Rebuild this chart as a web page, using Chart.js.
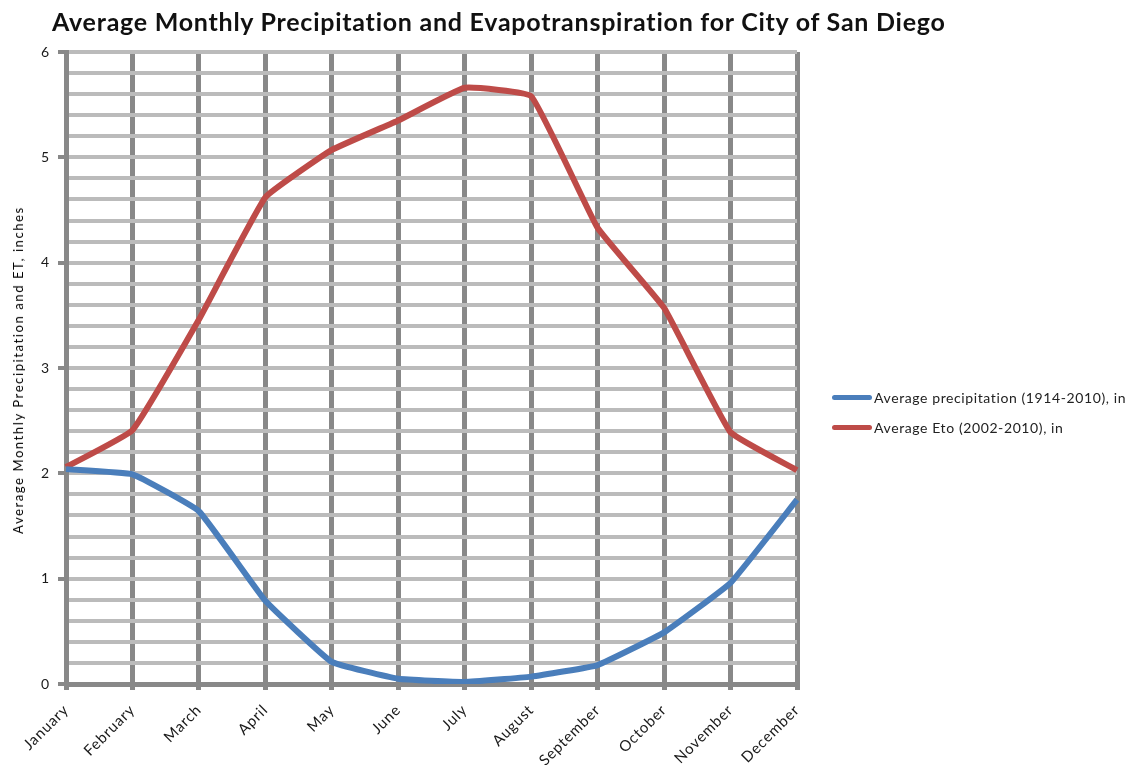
<!DOCTYPE html>
<html>
<head>
<meta charset="utf-8">
<script src="https://cdn.jsdelivr.net/npm/chart.js@4/dist/chart.umd.min.js"></script>
<style>
  html, body { margin: 0; padding: 0; background: #fff; }
  #wrap { position: relative; width: 1136px; height: 765px; }
  #title { position: absolute; left: 52px; top: 9px; font: bold 25px/25px Lato, sans-serif; letter-spacing: 0.75px; color: #111; white-space: nowrap; }
  #ytitle { position: absolute; left: 18px; top: 370px; transform: translate(-50%, -50%) rotate(-90deg); font: 13px/14px Lato, sans-serif; letter-spacing: 1.6px; color: #000; white-space: nowrap; }
  #legend { position: absolute; left: 832px; top: 382px; font: 14px Lato, sans-serif; letter-spacing: 0.6px; color: #222; }
  .item { display: flex; align-items: center; height: 30px; }
  .sw { width: 40px; height: 5px; border-radius: 3px; margin-right: 2px; }
  canvas { position: absolute; left: 0; top: 0; }
</style>
</head>
<body>
<div id="wrap">
  <canvas id="c" width="1136" height="765"></canvas>
  <div id="title">Average Monthly Precipitation and Evapotranspiration for City of San Diego</div>
  <div id="ytitle">Average Monthly Precipitation and ET, inches</div>
  <div id="legend"></div>
</div>
<script>
const months = ["January","February","March","April","May","June","July","August","September","October","November","December"];
const precipitation = [2.04, 1.99, 1.64, 0.79, 0.21, 0.05, 0.02, 0.07, 0.18, 0.49, 0.96, 1.75];
const eto = [2.06, 2.41, 3.46, 4.62, 5.07, 5.35, 5.66, 5.58, 4.33, 3.57, 2.39, 2.03];
const seriesLabels = ["Average precipitation (1914-2010), in", "Average Eto (2002-2010), in"];
const seriesColors = ["#4A7EBB", "#BE4B48"];

const datasets = [precipitation, eto].map((d, i) => ({
  label: seriesLabels[i],
  data: d,
  borderColor: seriesColors[i],
  backgroundColor: seriesColors[i],
  borderWidth: 6,
  pointRadius: 0,
  tension: 0.1,
  fill: false
}));

const legend = document.getElementById('legend');
datasets.forEach(ds => {
  const it = document.createElement('div');
  it.className = 'item';
  const sw = document.createElement('div');
  sw.className = 'sw';
  sw.style.background = ds.borderColor;
  const tx = document.createElement('span');
  tx.textContent = ds.label;
  it.appendChild(sw); it.appendChild(tx);
  legend.appendChild(it);
});

const spacingPlugin = {
  id: 'spacing',
  beforeUpdate(chart) { if ('letterSpacing' in chart.ctx) chart.ctx.letterSpacing = '0.8px'; },
  beforeDraw(chart) { if ('letterSpacing' in chart.ctx) chart.ctx.letterSpacing = '0.8px'; }
};

new Chart(document.getElementById('c'), {
  type: 'line',
  data: { labels: months, datasets },
  plugins: [spacingPlugin],
  options: {
    responsive: false,
    animation: false,
    layout: { padding: { left: 36, top: 52, right: 339, bottom: 0 } },
    plugins: { legend: { display: false }, title: { display: false }, tooltip: { enabled: false } },
    scales: {
      x: {
        z: -1,
        offset: false,
        afterFit: s => { s.height = 81; },
        grid: { color: '#888888', lineWidth: 5, tickLength: 6, tickColor: '#888888', offset: false },
        border: { color: '#888888', width: 5 },
        ticks: { maxRotation: 45, minRotation: 45, color: '#1a1a1a', font: { family: 'Lato', size: 15 }, padding: 11 }
      },
      y: {
        z: -2,
        min: 0, max: 6,
        afterFit: s => { s.width = 30; },
        grid: {
          color: '#BBBBBB', lineWidth: 4, tickLength: 8,
          tickColor: ctx => (Math.abs(ctx.tick.value - Math.round(ctx.tick.value)) < 1e-6 ? '#888888' : 'rgba(0,0,0,0)')
        },
        border: { color: '#888888', width: 5 },
        ticks: {
          stepSize: 0.2,
          autoSkip: false,
          color: '#1a1a1a',
          font: { family: 'Lato', size: 14 },
          padding: 8,
          callback: v => (Math.abs(v - Math.round(v)) < 1e-6 ? String(Math.round(v)) : '')
        },
        title: { display: false }
      }
    }
  }
});
</script>
</body>
</html>
